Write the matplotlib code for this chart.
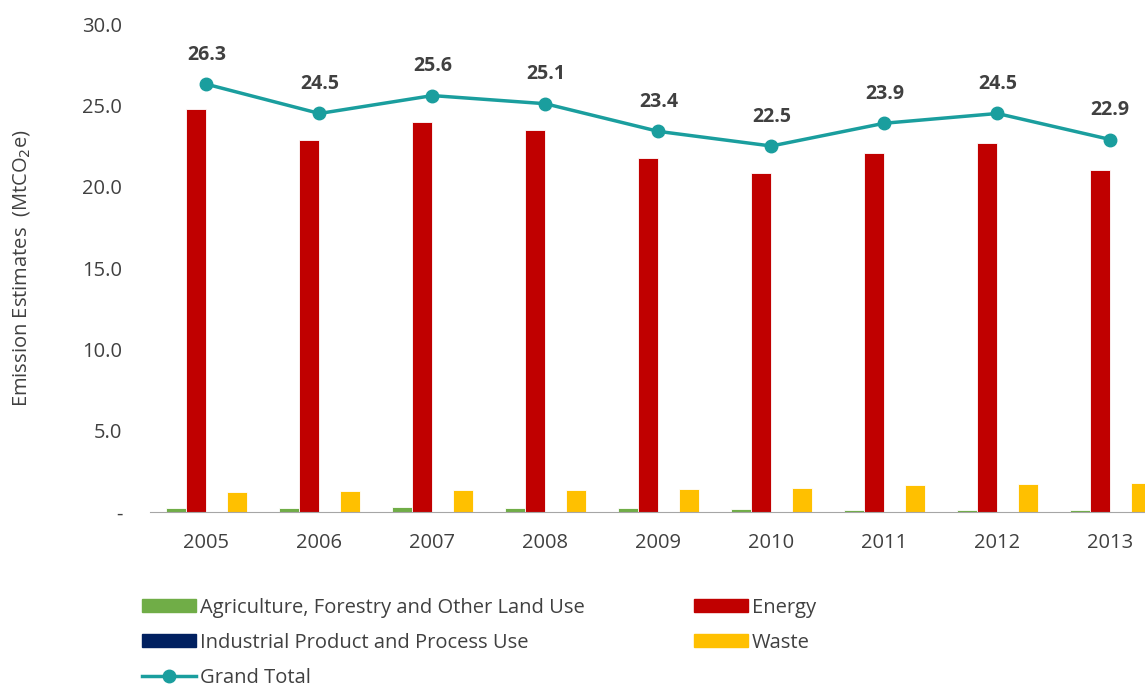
import numpy as np
import matplotlib.pyplot as plt
from matplotlib.lines import Line2D
from matplotlib.patches import Patch

plt.rcParams["font.family"] = ["Open Sans", "DejaVu Sans"]

# ------------------------------------------------------------------
# data (MtCO2e)
# ------------------------------------------------------------------
years = ["2005", "2006", "2007", "2008", "2009", "2010", "2011", "2012", "2013"]
agri = [0.25, 0.25, 0.28, 0.25, 0.22, 0.20, 0.12, 0.10, 0.10]
energy = [24.8, 22.9, 24.0, 23.5, 21.75, 20.85, 22.1, 22.7, 21.0]
industrial = [0.02, 0.02, 0.02, 0.02, 0.02, 0.02, 0.02, 0.02, 0.02]
waste = [1.23, 1.30, 1.35, 1.37, 1.40, 1.45, 1.65, 1.72, 1.77]
grand_total = [26.3, 24.5, 25.6, 25.1, 23.4, 22.5, 23.9, 24.5, 22.9]

c_agri = "#70AD47"
c_energy = "#C00000"
c_ind = "#002060"
c_waste = "#FFC000"
c_total = "#1A9E9E"
txt = "#404040"

fig = plt.figure(figsize=(11.45, 6.86), dpi=100)
ax = fig.add_axes([0.131, 0.2536, 0.888, 0.7114])

x = np.arange(len(years))
w = 0.18
ax.bar(x - 1.5 * w, agri, w, color=c_agri, edgecolor="white", linewidth=0.6)
ax.bar(x - 0.5 * w, energy, w, color=c_energy, edgecolor="white", linewidth=0.6)
ax.bar(x + 0.5 * w, industrial, w, color=c_ind)
ax.bar(x + 1.5 * w, waste, w, color=c_waste, edgecolor="white", linewidth=0.6)

ax.plot(x, grand_total, color=c_total, linewidth=2.5, marker="o",
        markersize=9, zorder=4)
for xi, v in zip(x, grand_total):
    ax.annotate(f"{v:.1f}", (xi, v), xytext=(0, 14), textcoords="offset points",
                ha="center", va="bottom", fontsize=14, fontweight="bold",
                color=txt)

ax.set_xlim(-0.5, len(years) - 0.5)
ax.set_ylim(0, 30)
ax.set_yticks(np.arange(0, 31, 5))
ax.set_yticklabels(["-"] + [f"{t:.1f}" for t in np.arange(5, 31, 5)])
ax.set_xticks(x)
ax.set_xticklabels(years)
ax.tick_params(axis="both", length=0, labelsize=14.5, colors=txt)
ax.tick_params(axis="y", pad=20)
ax.tick_params(axis="x", pad=15)
for side in ["top", "right", "left"]:
    ax.spines[side].set_visible(False)
ax.spines["bottom"].set_color("#A6A6A6")
ax.set_ylabel("Emission Estimates  (MtCO$_2$e)", fontsize=14.5, color=txt,
              labelpad=36)

handles = [
    Patch(color=c_agri, label="Agriculture, Forestry and Other Land Use"),
    Patch(color=c_ind, label="Industrial Product and Process Use"),
    Line2D([], [], color=c_total, linewidth=2.5, marker="o", markersize=9,
           label="Grand Total"),
    Patch(color=c_energy, label="Energy"),
    Patch(color=c_waste, label="Waste"),
]
fig.legend(handles=handles, loc="upper left", bbox_to_anchor=(0.108, 0.155),
           ncol=2, frameon=False, fontsize=14.5, labelcolor=txt,
           handlelength=2.7, handleheight=0.6, handletextpad=0.2,
           columnspacing=5.4, labelspacing=0.75)

fig.savefig("out.png", dpi=100)
